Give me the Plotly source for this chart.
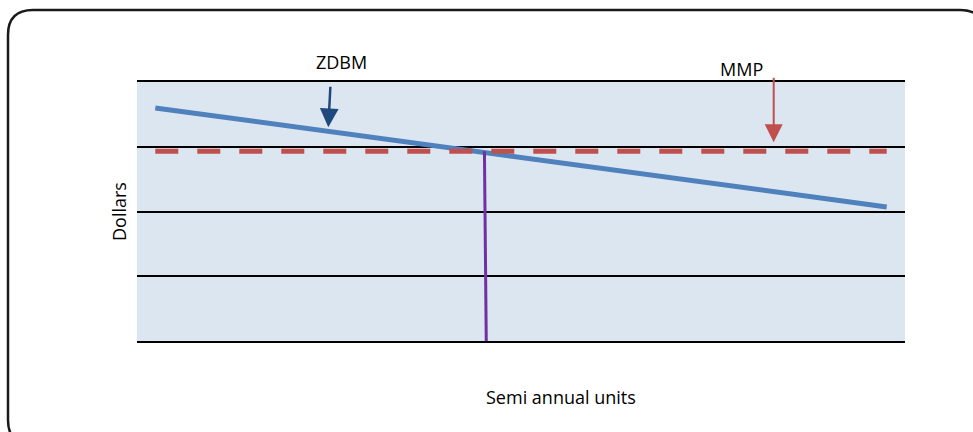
import plotly.graph_objects as go

# ---- data ----
periods = [0, 20]
zdbm = [3.60, 2.07]
mmp = [2.93, 2.93]
cut_x = [9.0, 9.05]
cut_y = [2.93, 0.0]

zdbm_label = "ZDBM"
mmp_label = "MMP"
x_title = "Semi annual units"
y_title = "Dollars"

W, H = 973, 432
L, R, T, B = 137, 68, 82, 91
pw, ph = W - L - R, H - T - B

def px(xp):
    return (xp - L) / pw

def py(yp):
    return (H - B - yp) / ph

fig = go.Figure()
fig.add_trace(go.Scatter(x=periods, y=zdbm, mode="lines",
                         line=dict(color="#4F81BD", width=5), showlegend=False, hoverinfo="skip"))
fig.add_trace(go.Scatter(x=periods, y=mmp, mode="lines",
                         line=dict(color="#C0504D", width=5, dash="23px,19px"), showlegend=False, hoverinfo="skip"))
fig.add_trace(go.Scatter(x=cut_x, y=cut_y, mode="lines",
                         line=dict(color="#7030A0", width=3), showlegend=False, hoverinfo="skip"))

# rounded outer border
x0, x1, y0, y1, r = px(8), px(985), py(10), py(445), 25
rx, ry = r / pw, r / ph
path = (f"M {x0+rx},{y0} L {x1-rx},{y0} Q {x1},{y0} {x1},{y0-ry} "
        f"L {x1},{y1+ry} Q {x1},{y1} {x1-rx},{y1} L {x0+rx},{y1} "
        f"Q {x0},{y1} {x0},{y1+ry} L {x0},{y0-ry} Q {x0},{y0} {x0+rx},{y0} Z")
fig.add_shape(type="path", path=path, xref="paper", yref="paper",
              line=dict(color="#1a1a1a", width=2.5), layer="below")

font = dict(family="Open Sans, Liberation Sans, sans-serif", size=18, color="#000000")

fig.add_annotation(x=px(341), y=py(62), xref="paper", yref="paper", text=zdbm_label,
                   xanchor="center", yanchor="middle", showarrow=False, font=font)
fig.add_annotation(x=4.73, y=3.30, ax=4.79, ay=3.95, axref="x", ayref="y", xref="x", yref="y",
                   text="", showarrow=True, arrowhead=2, arrowsize=1.5, arrowwidth=2.5,
                   arrowcolor="#1F497D")
fig.add_annotation(x=px(741), y=py(69), xref="paper", yref="paper", text=mmp_label,
                   xanchor="center", yanchor="middle", showarrow=False, font=font)
fig.add_annotation(x=16.91, y=3.07, ax=16.91, ay=4.09, axref="x", ayref="y", xref="x", yref="y",
                   text="", showarrow=True, arrowhead=2, arrowsize=1.8, arrowwidth=2,
                   arrowcolor="#C0504D")
# x-axis title (offset right of plot centre, as in the original)
fig.add_annotation(x=px(561), y=py(397), xref="paper", yref="paper", text=x_title,
                   xanchor="center", yanchor="middle", showarrow=False, font=font)

fig.update_layout(
    width=W, height=H,
    margin=dict(l=L, r=R, t=T, b=B),
    paper_bgcolor="white", plot_bgcolor="#DCE6F1",
    font=font,
    showlegend=False,
)
fig.update_xaxes(range=[-0.5, 20.5], showgrid=False, zeroline=False, showticklabels=False,
                 ticks="", showline=True, linecolor="#000000", linewidth=2, mirror=True)
fig.update_yaxes(range=[0, 4], dtick=1, tick0=0, showgrid=True, gridcolor="#000000", gridwidth=2,
                 zeroline=True, zerolinecolor="#000000", zerolinewidth=2,
                 showticklabels=False, ticks="", showline=False,
                 title=dict(text=y_title, standoff=4, font=font))

fig.write_html("out.html", config={"displayModeBar": False},
               post_script="document.body.style.margin='0';")
